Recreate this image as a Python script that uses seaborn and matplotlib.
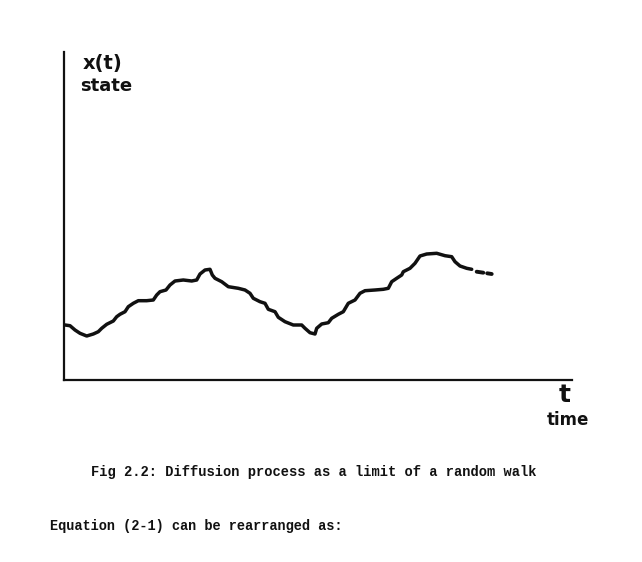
import matplotlib
matplotlib.use("Agg")
import matplotlib.pyplot as plt
import seaborn as sns
import pandas as pd

# Trace of the diffusion path (time units, state units)
time_vals = [1, 6, 11, 16, 22.7, 29.3, 34.3, 37.7, 42.7, 49.3, 52.7, 56, 61, 64.3, 69.3,
             74.3, 82.7, 89.3, 92.7, 96, 102, 106, 111, 119.3, 127.7, 132.7, 136, 141,
             146, 148.3, 151, 157.7, 164.3, 174.3, 181, 186, 189.3, 196, 201, 204.3, 211,
             214.3, 221, 229.3, 237.7, 241, 246, 251, 252.7, 257.7, 264.3, 267.7, 274.3,
             279.3, 284.3, 291, 296, 301, 311, 319.3, 324.3, 327.7, 332.7, 337.7, 339.3,
             346, 351, 356, 362.7, 372.7, 381, 387.7, 391, 396, 402.7, 407.7]
state_vals = [55, 54.3, 50, 46.7, 44, 46, 48.3, 51.7, 55.7, 59, 63.3, 65.7, 68.3, 73.3,
              76.7, 79.3, 79.3, 80, 85, 88.3, 90, 95, 99, 100, 99, 100, 106, 110, 110.7,
              105, 101.7, 98.3, 93.3, 91.7, 90, 86.7, 81.7, 78.3, 76.7, 70.7, 68.3, 62.7,
              58.3, 55, 55, 51.7, 47.3, 46, 51.7, 56, 57.3, 61.7, 65.7, 68.3, 76.7, 80,
              86.7, 89.3, 90, 90.7, 91.7, 98.3, 101.7, 105, 108.3, 111.7, 116.7, 124, 126,
              126.7, 124.3, 123.3, 118.3, 114, 111.7, 110.7]
# trailing dash and dot
tail_time = [412.7, 419.3, 423.2, 427.7]
tail_state = [108.3, 107.3, 106.7, 106]
tail_piece = [1, 1, 2, 2]

fig = plt.figure(figsize=(6.42, 5.62), dpi=100)
sns.set_style("white")
ax = fig.add_axes([64 / 642, 1 - 380 / 562, 508 / 642, (380 - 52) / 562])

df = pd.DataFrame({"t": time_vals, "x": state_vals})
sns.lineplot(data=df, x="t", y="x", ax=ax, sort=False, estimator=None,
             color="#111111", linewidth=2.5, solid_joinstyle="round",
             solid_capstyle="round")
df2 = pd.DataFrame({"t": tail_time, "x": tail_state, "piece": tail_piece})
sns.lineplot(data=df2, x="t", y="x", units="piece", ax=ax, sort=False, estimator=None,
             color="#111111", linewidth=2.8, solid_capstyle="round")

ax.set_xlim(0, 508)
ax.set_ylim(0, 328)
ax.set_xticks([])
ax.set_yticks([])
ax.set_xlabel("")
ax.set_ylabel("")
for s in ["top", "right"]:
    ax.spines[s].set_visible(False)
for s in ["left", "bottom"]:
    ax.spines[s].set_color("#111111")
    ax.spines[s].set_linewidth(1.6)
ax.patch.set_alpha(0)

hand = dict(color="#111111", fontweight="bold", family="DejaVu Sans")
fig.text(83 / 642, 1 - 63 / 562, "x(t)", fontsize=14, va="center", ha="left", **hand)
fig.text(80 / 642, 1 - 86 / 562, "state", fontsize=13, va="center", ha="left", **hand)
fig.text(565 / 642, 1 - 395 / 562, "t", fontsize=18, va="center", ha="center", **hand)
fig.text(568 / 642, 1 - 420 / 562, "time", fontsize=12, va="center", ha="center", **hand)

mono = dict(color="#111111", family="Liberation Mono", fontweight="bold")
fig.text(91 / 642, 1 - 472 / 562, "Fig 2.2: Diffusion process as a limit of a random walk",
         va="center", ha="left", fontsize=9.95, **mono)
fig.text(50 / 642, 1 - 526 / 562, "Equation (2-1) can be rearranged as:",
         va="center", ha="left", fontsize=9.8, **mono)

fig.savefig("out.png", dpi=100, facecolor="white")
